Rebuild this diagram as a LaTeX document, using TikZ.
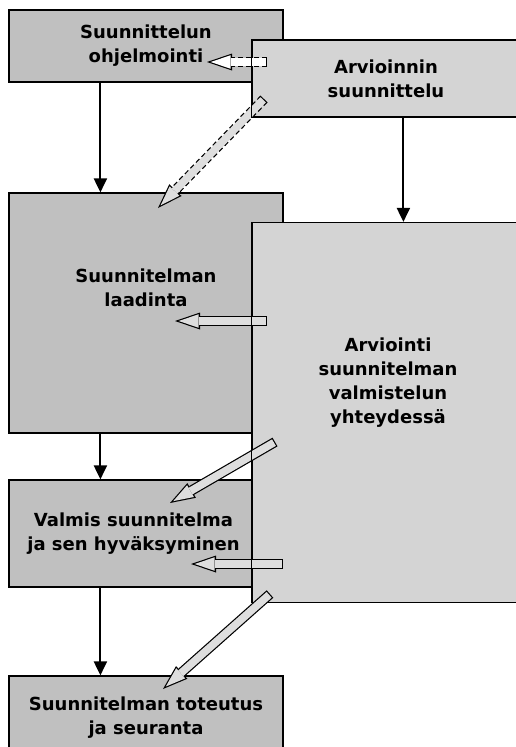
\documentclass[tikz,border=0pt]{standalone}
\usepackage{fontspec}
\setmainfont{DejaVu Sans}
\usetikzlibrary{arrows.meta}
\definecolor{boxdark}{RGB}{192,192,192}
\definecolor{boxlight}{RGB}{212,212,212}
\definecolor{arrowfill}{RGB}{222,222,222}

\begin{document}
\begin{tikzpicture}[x=1pt, y=-1pt]

\tikzset{box/.style = {draw, line width=1.2pt, font=\fontsize{18}{24}\selectfont\bfseries, align=center, inner sep=0pt}}
\tikzset{dark/.style = {box, fill=boxdark}}
\tikzset{light/.style = {box, fill=boxlight}}
\tikzset{txt/.style = {font=\fontsize{18}{24}\selectfont\bfseries, align=center, inner sep=0pt}}
\tikzset{flow/.style = {line width=2pt, -{Triangle[length=14pt,width=13pt]}}}
\tikzset{arrowrim/.style = {draw=black, line width=10pt, -{Triangle[length=25pt,width=17pt,line width=0pt]}, shorten <=0pt, shorten >=0pt}}
\tikzset{arrowcore/.style = {draw=#1, line width=7.6pt, -{Triangle[length=20pt,width=13.6pt,line width=0pt]}, shorten <=1.2pt, shorten >=3.7pt}}
\tikzset{hollow/.style = {arrowcore=#1, preaction={arrowrim}}}
\tikzset{hollowdash/.style = {arrowcore=#1, preaction={arrowrim, dash pattern=on 5pt off 3pt}}}

\clip (0,0) rectangle (516,747);

%boxes
\node[dark, minimum width=274pt, minimum height=72pt] (ohjelmointi) at (146,46) {Suunnittelun\\ohjelmointi};
\node[light, minimum width=268pt, minimum height=77pt] (arvsuunn) at (386,78.5) {Arvioinnin\\suunnittelu};
\node[dark, minimum width=274pt, minimum height=240pt] (laadinta) at (146,313) {};
\node[txt] (laadintatxt) at (146,288) {Suunnitelman\\laadinta};
\node[dark, minimum width=249pt, minimum height=107pt] (valmis) at (133.5,533.5) {Valmis suunnitelma\\ja sen hyväksyminen};
\node[dark, minimum width=274pt, minimum height=84pt] (toteutus) at (146,718) {Suunnitelman toteutus\\ja seuranta};
\node[light, minimum width=268pt, minimum height=380pt] (arviointi) at (386,412.5) {};
\node[txt] (arviointitxt) at (388,383) {Arviointi\\suunnitelman\\valmistelun\\yhteydessä};

%main flow
\draw[flow] ([xshift=92pt]ohjelmointi.south west) -- ([xshift=92pt]laadinta.north west);
\draw[flow] ([xshift=92pt]laadinta.south west) -- ([xshift=92pt]valmis.north west);
\draw[flow] ([xshift=92pt]valmis.south west) -- ([xshift=92pt]toteutus.north west);
\draw[flow] ([xshift=152pt]arvsuunn.south west) -- ([xshift=152pt]arviointi.north west);

%evaluation feedback
\coordinate (s1) at (267,62);   \coordinate (t1) at (207,62);
\coordinate (s2) at (264,99);   \coordinate (t2) at (158,208);
\coordinate (s3) at (267,321);  \coordinate (t3) at (175,321);
\coordinate (s4) at (275,442);  \coordinate (t4) at (170,503);
\coordinate (s5) at (283,564);  \coordinate (t5) at (191,564);
\coordinate (s6) at (270,594);  \coordinate (t6) at (163,689);
\draw[hollowdash=white] (s1) -- (t1);
\draw[hollowdash=arrowfill] (s2) -- (t2);
\draw[hollow=arrowfill] (s3) -- (t3);
\draw[hollow=arrowfill] (s4) -- (t4);
\draw[hollow=arrowfill] (s5) -- (t5);
\draw[hollow=arrowfill] (s6) -- (t6);

%left edges stay on top of the arrows
\draw[line width=1.2pt] (arvsuunn.north west) -- (arvsuunn.south west);
\draw[line width=1.2pt] (arviointi.north west) -- (arviointi.south west);

\end{tikzpicture}
\end{document}
